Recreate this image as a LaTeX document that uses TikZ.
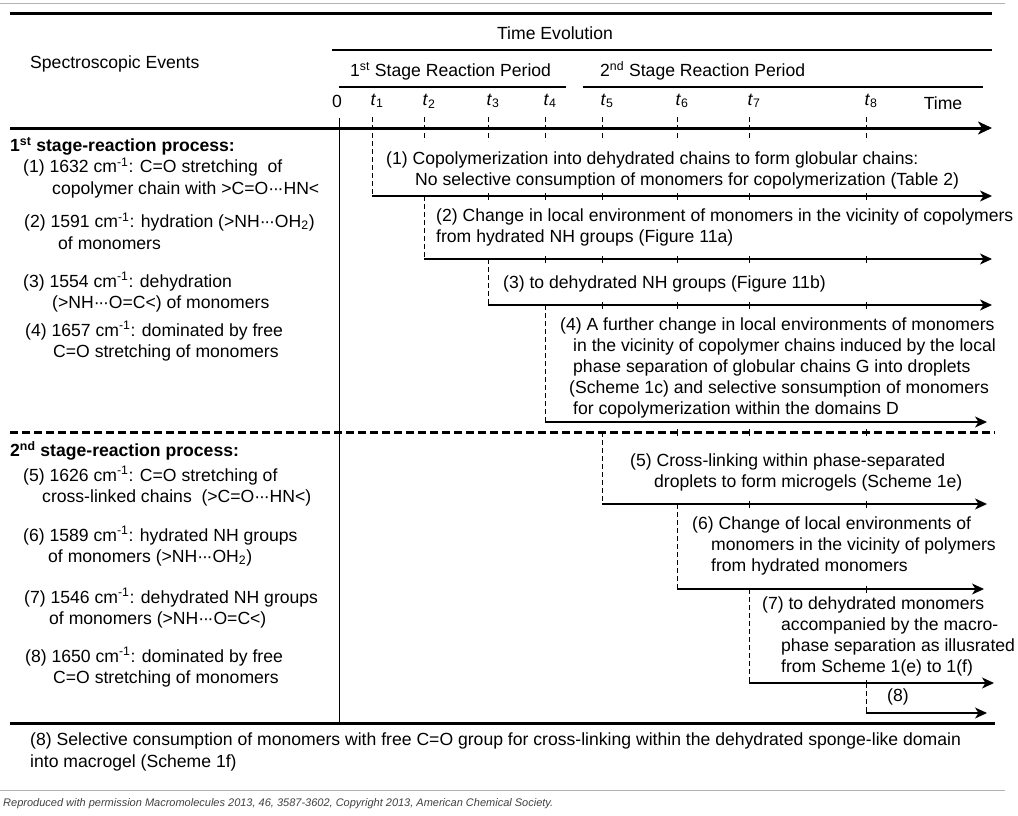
\documentclass[tikz,border=0pt]{standalone}
\usepackage{fontspec}
\setmainfont{Liberation Sans}
\usetikzlibrary{arrows.meta, positioning}
\newcommand{\hdots}{·\kern-1.2pt·\kern-1.2pt·}

\begin{document}
\begin{tikzpicture}[x=1pt, y=-1pt, font=\fontsize{17.6}{21}\selectfont,
    txt/.style={anchor=west, inner sep=0pt, align=left},
    tlab/.style={inner sep=0pt},
    heavy/.style={line width=3pt},
    thinrule/.style={line width=1.6pt},
    greyrule/.style={line width=0.8pt, black!30},
    evt/.style={line width=1.4pt, -{Stealth[length=12pt, width=11pt, inset=3.5pt]}},
    drop/.style={line width=0.8pt, dash pattern=on 5pt off 3pt},
    tk/.style={line width=0.8pt}]
    \useasboundingbox (0,0) rectangle (1018,816);

    % rules of the table
    \draw[greyrule] (0,3) -- (1005,3);
    \draw[heavy] (10,14) -- (992,14);
    \draw[thinrule] (332,50) -- (992,50);
    \draw[line width=1.3pt] (339,87) -- (566,87);
    \draw[line width=1.3pt] (583,87) -- (983,87);
    \draw[heavy, dash pattern=on 8pt off 4pt] (10,432) coordinate (dl) -- (995,432);
    \draw[heavy] (10,723) -- (995,723);
    \draw[greyrule] (0,790) -- (1005,790);
    \draw[line width=1pt] (339,118) -- (339,723);

    % headings
    \node[tlab] (tevo) at (555,33) {Time Evolution};
    \node[txt] (spev) at (30,64) {Spectroscopic Events};
    \node[txt] (st1) at (350,71) {1\textsuperscript{st} Stage Reaction Period};
    \node[txt] (st2) at (600,71) {2\textsuperscript{nd} Stage Reaction Period};

    % time axis
    \coordinate (t1) at (372,128);
    \coordinate (t2) at (424,128);
    \coordinate (t3) at (488,128);
    \coordinate (t4) at (545,128);
    \coordinate (t5) at (602,128);
    \coordinate (t6) at (677,128);
    \coordinate (t7) at (749,128);
    \coordinate (t8) at (866,128);
    \draw[heavy, -{Stealth[length=14pt, width=13pt, inset=4pt]}] (10,128) -- (992,128);
    \node[tlab] (zero) at (337,101) {0};
    \foreach \i in {1,...,8}
        \node[tlab] (l\i) at ([xshift=5pt, yshift=27pt]t\i) {\textit{t}\textsubscript{\i}};
    \node[tlab] (time) at (943,103) {Time};
    \foreach \i in {2,...,8}
        \draw[drop] (t\i) ++(0,-11) -- ++(0,24);

    % left column
    \node[txt] (hd1) at (10,146) {\textbf{1\textsuperscript{st} stage-reaction process:}};
    \node[txt, font=\fontsize{17.6}{22}\selectfont] (e1) at (23,178) {(1) 1632 cm\textsuperscript{-1}: C=O stretching\ \ of\\\hspace*{29pt}copolymer chain with >C=O\hdots HN<};
    \node[txt, font=\fontsize{17.6}{22}\selectfont] (e2) at (24,231) {(2) 1591 cm\textsuperscript{-1}: hydration (>NH\hdots OH\textsubscript{2})\\\hspace*{34pt}of monomers};
    \node[txt] (e3) at (23,292) {(3) 1554 cm\textsuperscript{-1}: dehydration\\\hspace*{29pt}(>NH\hdots O=C<) of monomers};
    \node[txt] (e4) at (25,341) {(4) 1657 cm\textsuperscript{-1}: dominated by free\\\hspace*{28pt}C=O stretching of monomers};
    \node[txt] (hd2) at (10,451) {\textbf{2\textsuperscript{nd} stage-reaction process:}};
    \node[txt] (e5) at (23,486) {(5) 1626 cm\textsuperscript{-1}: C=O stretching of\\\hspace*{19pt}cross-linked chains\ \ (>C=O\hdots HN<)};
    \node[txt] (e6) at (23,546) {(6) 1589 cm\textsuperscript{-1}: hydrated NH groups\\\hspace*{25pt}of monomers (>NH\hdots OH\textsubscript{2})};
    \node[txt] (e7) at (24,608) {(7) 1546 cm\textsuperscript{-1}: dehydrated NH groups\\\hspace*{25pt}of monomers (>NH\hdots O=C<)};
    \node[txt] (e8) at (25,667) {(8) 1650 cm\textsuperscript{-1}: dominated by free\\\hspace*{28pt}C=O stretching of monomers};

    % event arrows
    \coordinate (s1) at (372,196); \coordinate (f1) at (992,196);
    \coordinate (s2) at (424,259); \coordinate (f2) at (992,259);
    \coordinate (s3) at (488,305); \coordinate (f3) at (992,305);
    \coordinate (s4) at (545,422); \coordinate (f4) at (987,422);
    \coordinate (s5) at (602,504); \coordinate (f5) at (987,504);
    \coordinate (s6) at (677,589); \coordinate (f6) at (984,589);
    \coordinate (s7) at (749,683); \coordinate (f7) at (994,683);
    \coordinate (s8) at (866,713); \coordinate (f8) at (987,713);
    \draw[drop] (t1) ++(0,-11) -- (s1);
    \draw[drop] (s2 |- s1) -- (s2);
    \draw[drop] (s3 |- s2) -- (s3);
    \draw[drop] (s4 |- s3) -- (s4);
    \draw[drop] (s5 |- dl) -- (s5);
    \draw[drop] (s6 |- s5) -- (s6);
    \draw[drop] (s7 |- s6) -- (s7);
    \draw[drop] (s8 |- s7) -- (s8);
    \foreach \i in {1,...,8}
        \draw[evt] (s\i) -- (f\i);
    % remaining time marks on the arrows
    \foreach \a/\ts in {s1/{t3,t4,t5,t6,t7,t8}, s2/{t4,t5,t6,t7,t8}, s3/{t5,t6,t7,t8},
                        dl/{t6,t7,t8}, s5/{t7,t8}, s6/{t8}, s7/{t8}}
        \foreach \t in \ts
            \draw[tk] (\t |- \a) ++(0,-3) -- ++(0,7);

    \node[txt] (a1) at (386,170) {(1) Copolymerization into dehydrated chains to form globular chains:\\\hspace*{29pt}No selective consumption of monomers for copolymerization (Table 2)};
    \node[txt] (a2) at (436,227) {(2) Change in local environment of monomers in the vicinity of copolymers\\from hydrated NH groups (Figure 11a)};
    \node[txt] (a3) at (503,284) {(3) to dehydrated NH groups (Figure 11b)};
    \node[txt] (a4) at (560,368) {(4) A further change in local environments of monomers\\\hspace*{13pt}in the vicinity of copolymer chains induced by the local\\\hspace*{13pt}phase separation of globular chains G into droplets\\\hspace*{9pt}(Scheme 1c) and selective sonsumption of monomers\\\hspace*{13pt}for copolymerization within the domains D};
    \node[txt] (a5) at (630,472) {(5) Cross-linking within phase-separated\\\hspace*{24pt}droplets to form microgels (Scheme 1e)};
    \node[txt] (a6) at (692,546) {(6) Change of local environments of\\\hspace*{19pt}monomers in the vicinity of polymers\\\hspace*{19pt}from hydrated monomers};
    \node[txt] (a7) at (762,636) {(7) to dehydrated monomers\\\hspace*{19pt}accompanied by the macro-\\\hspace*{19pt}phase separation as illusrated\\\hspace*{19pt}from Scheme 1(e) to 1(f)};
    \node[txt] (a8) at (887,697) {(8)};

    % footnote of the table
    \node[txt, font=\fontsize{17.6}{22}\selectfont] (note) at (30,752) {(8) Selective consumption of monomers with free C=O group for cross-linking within the dehydrated sponge-like domain\\into macrogel (Scheme 1f)};
    \node[txt, font=\fontsize{11}{13}\selectfont\itshape, text=black!75] (cred) at (3,804) {Reproduced with permission Macromolecules 2013, 46, 3587-3602, Copyright 2013, American Chemical Society.};
\end{tikzpicture}
\end{document}
